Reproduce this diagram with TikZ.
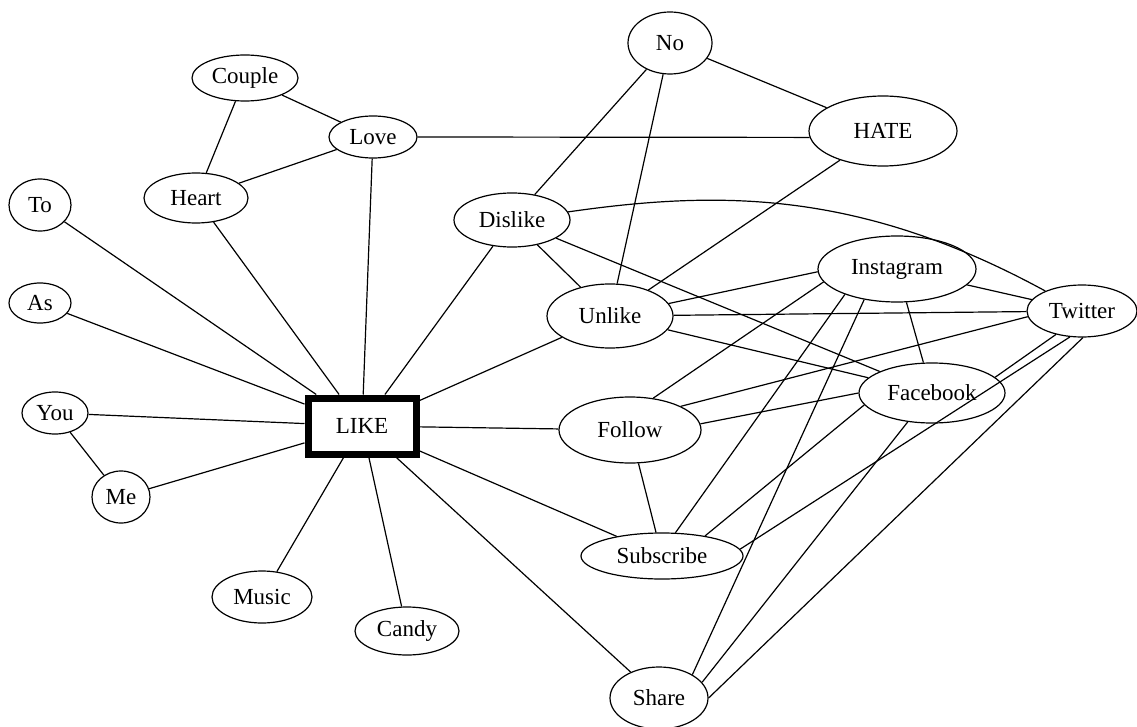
\documentclass[tikz,border=0pt]{standalone}
\usepackage{fontspec}
\setmainfont{Liberation Serif}
\usetikzlibrary{shapes.geometric}

\begin{document}
\begin{tikzpicture}[x=1pt,y=-1pt,
  every node/.style={font=\fontsize{23}{27}\selectfont},
  oval/.style n args={2}{ellipse,draw,line width=1.2pt,inner sep=0pt,
    minimum width=#1pt,minimum height=#2pt},
  hub/.style={rectangle,draw,line width=7pt,inner sep=0pt,
    minimum width=108pt,minimum height=56pt},
  link/.style={line width=1.2pt}]
\useasboundingbox (0,0) rectangle (1137,727);

% central word
\node[hub] (like) at (362,426) {LIKE};

% left cluster
\node[oval={106}{46}] (couple) at (245,78) {Couple};
\node[oval={88}{42}]  (love)   at (373,137) {Love};
\node[oval={104}{50}] (heart)  at (196,198) {Heart};
\node[oval={62}{52}]  (to)     at (40,205) {To};
\node[oval={62}{40}]  (as)     at (40,303) {As};
\node[oval={66}{42}]  (you)    at (55,413) {You};
\node[oval={58}{52}]  (me)     at (121,497) {Me};
\node[oval={100}{52}] (music)  at (262,597) {Music};
\node[oval={104}{48}] (candy)  at (407,631) {Candy};

% right cluster
\node[oval={84}{62}]  (no)        at (670,43) {No};
\node[oval={148}{70}] (hate)      at (883,131) {HATE};
\node[oval={116}{54}] (dislike)   at (512,220) {Dislike};
\node[oval={126}{64}] (unlike)    at (610,316) {Unlike};
\node[oval={158}{66}] (instagram) at (897,269) {Instagram};
\node[oval={110}{52}] (twitter)   at (1082,311) {Twitter};
\node[oval={146}{60}] (facebook)  at (932,393) {Facebook};
\node[oval={142}{66}] (follow)    at (630,430) {Follow};
\node[oval={162}{46}] (subscribe) at (662,556) {Subscribe};
\node[oval={98}{62}]  (share)     at (659,698) {Share};

% spokes from the central word
\foreach \n in {to,as,you,me,heart,love,dislike,unlike,follow,subscribe,share,music,candy}
  \draw[link] (like) -- (\n);

% left side links
\draw[link] (couple) -- (love);
\draw[link] (couple) -- (heart);
\draw[link] (heart) -- (love);
\draw[link] (love.east) -- (hate.185);
\draw[link] (you) -- (me);

% right side links
\draw[link] (no) -- (dislike);
\draw[link] (no) -- (unlike);
\draw[link] (no) -- (hate);
\draw[link] (hate) -- (unlike);
\draw[link] (dislike) -- (unlike);
\draw[link] (dislike) -- (facebook);
\draw[link] (dislike) .. controls (720,190) and (860,190) .. (twitter);
\draw[link] (unlike.12) -- (instagram.182);
\draw[link] (unlike) -- (twitter);
\draw[link] (unlike) -- (facebook);
\draw[link] (instagram) -- (twitter);
\draw[link] (instagram) -- (facebook);
\draw[link] (follow.54) -- (instagram.190);
\draw[link] (subscribe.60) -- (instagram.206);
\draw[link] (share.35) -- (instagram.223);
\draw[link] (follow.25) -- (twitter.186);
\draw[link] (facebook.14) -- (twitter.222);
\draw[link] (subscribe.5) -- (twitter.245);
\draw[link] (share.0) -- (twitter.272);
\draw[link] (follow.5) -- (facebook.180);
\draw[link] (subscribe.25) -- (facebook.190);
\draw[link] (share.20) -- (facebook.230);
\draw[link] (follow) -- (subscribe);
\end{tikzpicture}
\end{document}
